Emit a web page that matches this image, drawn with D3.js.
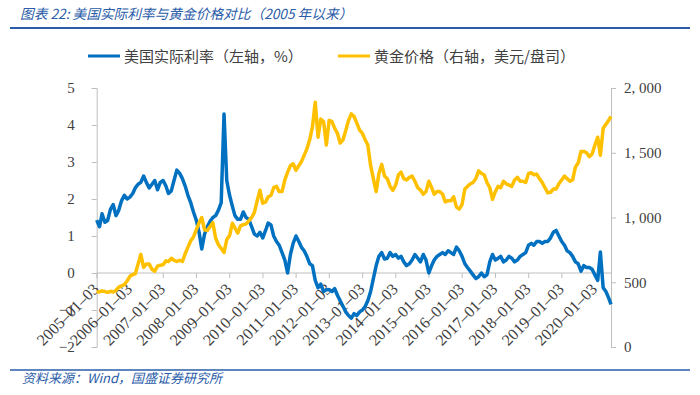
<!DOCTYPE html>
<html>
<head>
<meta charset="utf-8">
<script src="https://cdn.jsdelivr.net/npm/d3@7"></script>
<style>
body { margin: 0; background: #fff; }
svg { display: block; }
.cjk { font-family: "Noto Sans CJK SC", sans-serif; }
.num { font-family: "Liberation Serif", serif; }
</style>
</head>
<body>
<div id="chart"></div>
<script>
// x axis labels, one per year
var tickDates = ['2005-01-03', '2006-01-03', '2007-01-03', '2008-01-03', '2009-01-03', '2010-01-03',
    '2011-01-03', '2012-01-03', '2013-01-03', '2014-01-03', '2015-01-03', '2016-01-03',
    '2017-01-03', '2018-01-03', '2019-01-03', '2020-01-03'];
var startDate = '2005-01-01', lastMonth = '2020-07-01', endDate = '2020-06-26';
var leftTicks = [-2, -1, 0, 1, 2, 3, 4, 5];
var rightTicks = [0, 500, 1000, 1500, 2000];

// US real rate (%), monthly from 2005-01, last value = end of series
var realRate = [
    1.43, 1.25, 1.60, 1.37, 1.42, 1.72, 1.85, 1.55, 1.70, 1.95, 2.10, 2.00,
    2.05, 2.15, 2.30, 2.40, 2.45, 2.62, 2.45, 2.30, 2.40, 2.50, 2.25, 2.45,
    2.50, 2.35, 2.15, 2.22, 2.50, 2.78, 2.70, 2.55, 2.35, 2.10, 1.90, 1.65,
    1.43, 1.10, 0.65, 1.05, 1.25, 1.40, 1.50, 1.55, 1.70, 1.90, 4.30, 2.50,
    2.10, 1.80, 1.55, 1.45, 1.45, 1.65, 1.50, 1.45, 1.25, 1.05, 1.00, 1.10,
    0.95, 1.15, 1.35, 1.30, 1.00, 0.85, 0.75, 0.55, 0.35, 0.00, 0.50, 0.80,
    1.00, 0.85, 0.70, 0.60, 0.45, 0.25, 0.20, -0.20, -0.40, -0.30, -0.50, -0.45,
    -0.45, -0.50, -0.42, -0.60, -0.75, -0.90, -1.05, -1.15, -1.22, -1.10, -1.15, -1.05,
    -1.00, -0.90, -0.75, -0.50, -0.15, 0.20, 0.45, 0.55, 0.38, 0.40, 0.55, 0.45,
    0.50, 0.40, 0.45, 0.30, 0.20, 0.25, 0.35, 0.50, 0.40, 0.30, 0.50, 0.35,
    0.00, 0.20, 0.35, 0.45, 0.50, 0.55, 0.50, 0.60, 0.55, 0.50, 0.70, 0.60,
    0.45, 0.25, 0.15, 0.05, -0.05, -0.15, -0.10, 0.00, -0.10, -0.05, 0.30, 0.50,
    0.35, 0.40, 0.45, 0.30, 0.35, 0.45, 0.40, 0.30, 0.35, 0.45, 0.50, 0.55,
    0.75, 0.80, 0.75, 0.85, 0.85, 0.80, 0.85, 0.85, 0.95, 1.10, 1.15, 1.00,
    0.85, 0.75, 0.60, 0.55, 0.45, 0.30, 0.25, 0.05, 0.20, 0.15, 0.15, 0.10,
    -0.05, -0.20, 0.57, -0.40, -0.50, -0.68, -0.85
];

// gold price (USD/oz), same dates
var goldPrice = [
    425, 427, 432, 428, 422, 430, 425, 437, 462, 472, 482, 510,
    545, 560, 565, 640, 715, 615, 640, 640, 600, 585, 625, 632,
    635, 665, 660, 685, 670, 660, 670, 660, 720, 770, 820, 850,
    905, 960, 1000, 905, 900, 930, 960, 840, 790, 760, 730, 830,
    860, 955, 920, 880, 935, 945, 950, 975, 1000, 1040, 1130, 1210,
    1110, 1120, 1160, 1170, 1230, 1240, 1200, 1200, 1290, 1350, 1400, 1415,
    1365, 1400, 1430, 1480, 1530, 1600, 1700, 1890, 1620, 1760, 1740, 1560,
    1750, 1740, 1690, 1650, 1575, 1600, 1670, 1750, 1800, 1780, 1727, 1675,
    1650, 1598, 1560, 1400, 1300, 1200, 1340, 1410, 1320, 1300, 1240, 1210,
    1250, 1330, 1350, 1300, 1290, 1310, 1320, 1280, 1230, 1212, 1180, 1200,
    1280, 1230, 1180, 1200, 1200, 1180, 1120, 1130, 1130, 1160, 1080, 1065,
    1100, 1220, 1240, 1260, 1270, 1300, 1360, 1340, 1330, 1270, 1230, 1140,
    1200, 1240, 1230, 1280, 1260, 1250, 1240, 1290, 1310, 1280, 1280, 1270,
    1340, 1345, 1330, 1335, 1300, 1270, 1230, 1190, 1195, 1220, 1220, 1260,
    1290, 1320, 1300, 1280, 1290, 1390, 1420, 1510, 1510, 1500, 1470, 1490,
    1560, 1620, 1480, 1690, 1720, 1750, 1780
];

var blue = '#0070c0', gold = '#ffc000', axisColor = '#bfbfbf', textColor = '#404040', titleBlue = '#2a5ca8';

var W = 700, H = 395;
var plot = {left: 96.7, right: 611, top: 88, bottom: 347};

var parse = d3.timeParse('%Y-%m-%d');
var dates = d3.timeMonth.range(parse(startDate), parse(lastMonth)).concat([parse(endDate)]);

var svg = d3.select('#chart').append('svg')
    .attr('width', W)
    .attr('height', H);

// title + rules
svg.append('text')
    .attr('class', 'cjk')
    .attr('x', 20).attr('y', 19)
    .attr('font-size', 13.7)
    .attr('font-style', 'italic')
    .attr('fill', titleBlue)
    .text('图表 22:  美国实际利率与黄金价格对比（2005 年以来）');
svg.append('line')
    .attr('x1', 10).attr('x2', 690).attr('y1', 28).attr('y2', 28)
    .attr('stroke', titleBlue).attr('stroke-width', 2);
svg.append('line')
    .attr('x1', 10).attr('x2', 690).attr('y1', 370).attr('y2', 370)
    .attr('stroke', titleBlue).attr('stroke-width', 1.5);
svg.append('text')
    .attr('class', 'cjk')
    .attr('x', 22).attr('y', 383)
    .attr('font-size', 13)
    .attr('font-style', 'italic')
    .attr('fill', titleBlue)
    .text('资料来源：Wind，国盛证券研究所');

var xScale = d3.scaleTime()
    .domain([parse(startDate), parse(endDate)])
    .range([plot.left, plot.right]);
var yLeft = d3.scaleLinear().domain([-2, 5]).range([plot.bottom, plot.top]);
var yRight = d3.scaleLinear().domain([0, 2000]).range([plot.bottom, plot.top]);

// left axis
var leftAxis = d3.axisLeft(yLeft).tickValues(leftTicks).tickSize(5).tickPadding(17)
    .tickFormat(function (d) { return d < 0 ? '\u2212' + Math.abs(d) : d; });
var gl = svg.append('g')
    .attr('class', 'num')
    .attr('transform', 'translate(' + plot.left + ',0)')
    .call(leftAxis);

// right axis
var comma = d3.format(',');
var rightAxis = d3.axisRight(yRight).tickValues(rightTicks).tickSize(5).tickPadding(8)
    .tickFormat(function (d) { return comma(d).replace(',', ', '); });
var gr = svg.append('g')
    .attr('class', 'num')
    .attr('transform', 'translate(' + plot.right + ',0)')
    .call(rightAxis);

[gl, gr].forEach(function (g) {
    g.select('.domain').attr('stroke', axisColor);
    g.selectAll('.tick line').attr('stroke', axisColor);
    g.selectAll('.tick text').attr('font-size', 15).attr('fill', textColor)
        .attr('font-family', '"Liberation Serif", serif');
});

// x axis at zero
var y0 = yLeft(0);
svg.append('line')
    .attr('x1', plot.left).attr('x2', plot.right).attr('y1', y0).attr('y2', y0)
    .attr('stroke', axisColor);
var xt = svg.append('g').selectAll('g')
    .data(tickDates)
    .enter().append('g')
    .attr('transform', function (d) { return 'translate(' + xScale(parse(d)) + ',' + y0 + ')'; });
xt.append('line')
    .attr('y2', 5)
    .attr('stroke', axisColor);
xt.append('text')
    .attr('class', 'num')
    .attr('text-anchor', 'end')
    .attr('font-size', 16)
    .attr('fill', textColor)
    .attr('transform', 'translate(3,17) rotate(-45)')
    .text(function (d) { return d.replace(/-/g, '\u2013'); });

// series
var rateLine = d3.line()
    .x(function (d, i) { return xScale(dates[i]); })
    .y(function (d) { return yLeft(d); });
var goldLine = d3.line()
    .x(function (d, i) { return xScale(dates[i]); })
    .y(function (d) { return yRight(d); });

svg.append('path')
    .datum(realRate)
    .attr('d', rateLine)
    .attr('fill', 'none')
    .attr('stroke', blue)
    .attr('stroke-width', 3.5)
    .attr('stroke-linejoin', 'round');

svg.append('path')
    .datum(goldPrice)
    .attr('d', goldLine)
    .attr('fill', 'none')
    .attr('stroke', gold)
    .attr('stroke-width', 3.5)
    .attr('stroke-linejoin', 'round');

// legend
var legend = [
    {label: '美国实际利率（左轴，%）', color: blue, x: 88},
    {label: '黄金价格（右轴，美元/盘司）', color: gold, x: 338}
];
var lg = svg.append('g').selectAll('g')
    .data(legend)
    .enter().append('g')
    .attr('transform', function (d) { return 'translate(' + d.x + ',56)'; });
lg.append('line')
    .attr('x2', 32)
    .attr('stroke', function (d) { return d.color; })
    .attr('stroke-width', 3);
lg.append('text')
    .attr('class', 'cjk')
    .attr('x', 36).attr('y', 6)
    .attr('font-size', 15)
    .attr('fill', textColor)
    .text(function (d) { return d.label; });
</script>
</body>
</html>
